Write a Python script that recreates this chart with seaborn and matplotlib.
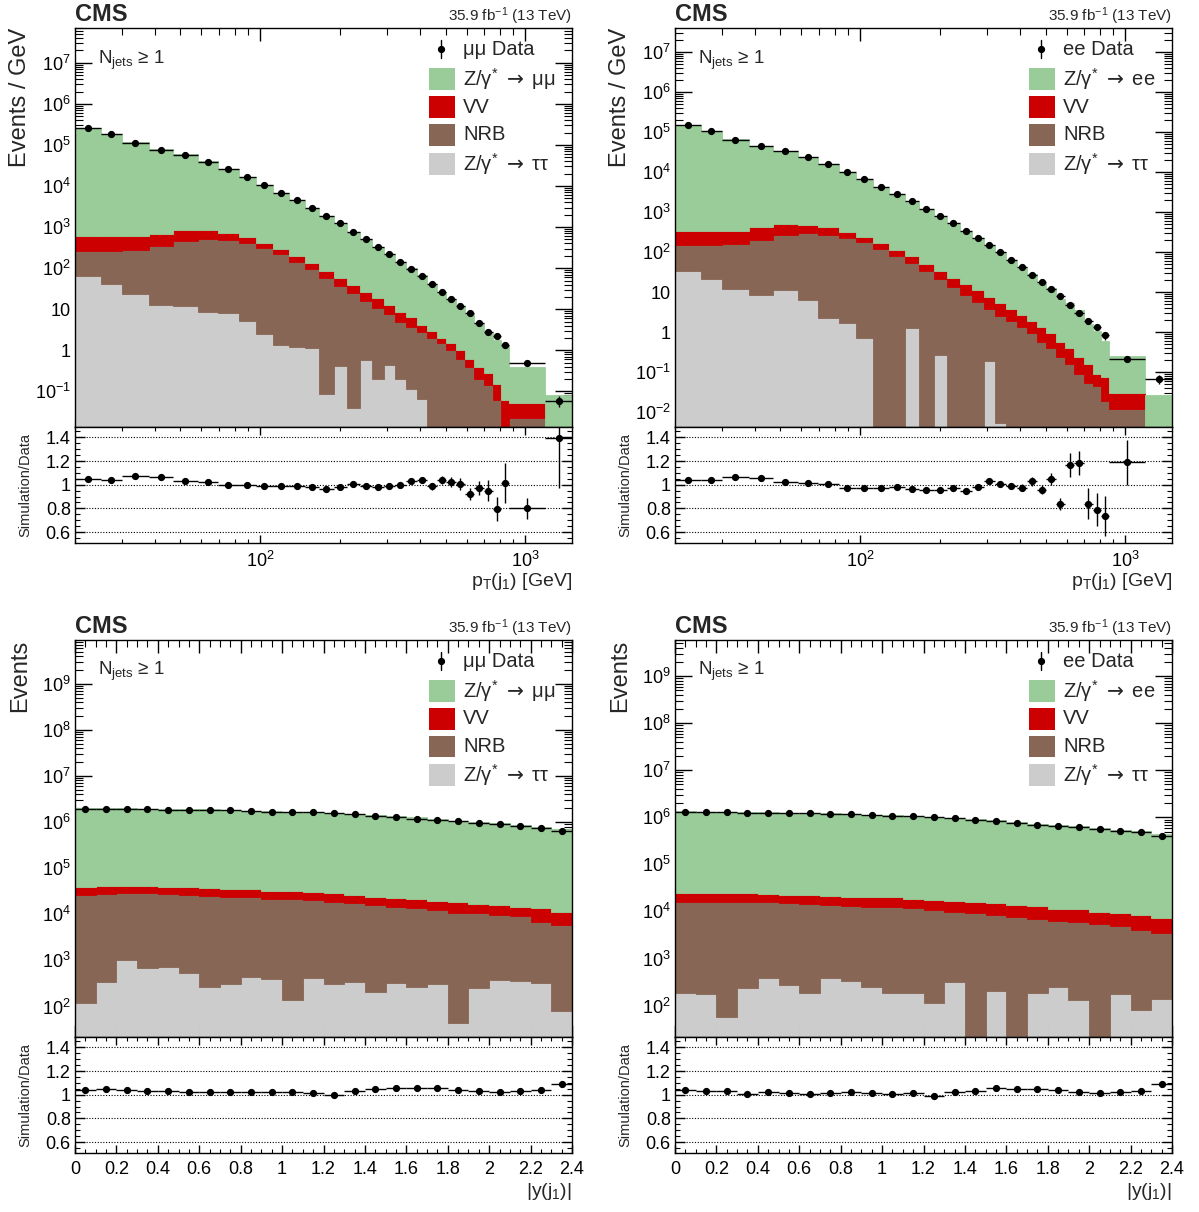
import numpy as np
import pandas as pd
import matplotlib
matplotlib.use("Agg")
import matplotlib.pyplot as plt
import seaborn as sns
from matplotlib.patches import Rectangle
from matplotlib.ticker import (FixedLocator, LogLocator, MultipleLocator,
                               FuncFormatter, NullFormatter)

# ----------------------------------------------------------------- data
pt_edges = [20, 25, 30, 38, 47, 58, 69, 83, 96, 112, 128, 148, 167, 189, 212,
            238, 263, 293, 322, 354, 390, 426, 464, 503, 546, 593, 643, 697,
            754, 810, 871, 1190, 1500]
y_edges = [0.0, 0.1, 0.2, 0.3, 0.4, 0.5, 0.6, 0.7, 0.8, 0.9, 1.0, 1.1, 1.2,
           1.3, 1.4, 1.5, 1.6, 1.7, 1.8, 1.9, 2.0, 2.1, 2.2, 2.3, 2.4]

# mu-mu, leading jet pT (events / GeV)
mm_pt_data = [2.54e5, 1.82e5, 1.09e5, 7.4e4, 5.7e4, 3.92e4, 2.6e4, 1.66e4, 1.08e4,
              6.9e3, 4.48e3, 2.92e3, 1.9e3, 1.23e3, 773, 513, 333, 221, 141, 95.5,
              64.6, 41, 25.8, 17.4, 12, 8.2, 4.7, 2.84, 2.27, 1.35, 0.5, 0.058]
mm_pt_dy = [2.65e5, 1.88e5, 1.16e5, 7.8e4, 5.8e4, 3.92e4, 2.53e4, 1.6e4, 1.02e4,
            6.54e3, 4.22e3, 2.73e3, 1.745e3, 1.144e3, 736, 481, 308, 206, 132, 91.6,
            63, 37.5, 24.9, 16.3, 11.1, 7.0, 4.18, 2.42, 1.66, 1.31, 0.347, 0.081]
mm_pt_vv = [340, 340, 319, 339, 391, 321, 233, 161, 95, 72, 54, 40, 26.4, 21.1, 14.5,
            10.6, 7.6, 5.0, 3.9, 3.0, 1.29, 0.92, 0.55, 0.46, 0.42, 0.2, 0.2, 0.13,
            0.086, 0.062, 0.031, 0]
mm_pt_nrb = [203, 226, 253, 340, 447, 504, 477, 398, 313, 220, 143, 93, 58.5, 37.1,
             24.4, 15.6, 10.7, 7.2, 4.6, 3.52, 2.78, 2.03, 1.48, 1.02, 0.6, 0.4, 0.196,
             0.143, 0.062, 0, 0.022, 0]
mm_pt_tt = [64, 41, 24, 13, 12, 8.6, 7.9, 5.2, 2.45, 1.35, 1.2, 1.12, 0.088, 0.415,
            0.04, 0.58, 0.2, 0.44, 0.2, 0.112, 0.064, 0, 0, 0, 0, 0, 0, 0, 0, 0, 0, 0]
mm_pt_ratio = [1.048, 1.039, 1.07, 1.062, 1.031, 1.02, 1.0, 1.0, 0.986, 0.99, 0.986,
               0.98, 0.963, 0.978, 1.003, 0.99, 0.98, 0.99, 0.997, 1.028, 1.039, 0.986,
               1.042, 1.022, 1.008, 0.924, 0.975, 0.95, 0.795, 1.014, 0.8, 1.393]
mm_pt_ratio_err = [0.004, 0.004, 0.004, 0.004, 0.004, 0.004, 0.005, 0.005, 0.006,
                   0.006, 0.007, 0.008, 0.009, 0.01, 0.011, 0.012, 0.014, 0.016, 0.018,
                   0.015, 0.025, 0.03, 0.035, 0.04, 0.05, 0.05, 0.06, 0.09, 0.1, 0.17,
                   0.09, 0.42]

# e-e, leading jet pT (events / GeV)
ee_pt_data = [1.47e5, 1.04e5, 6.3e4, 4.37e4, 3.34e4, 2.32e4, 1.55e4, 9.98e3, 6.54e3,
              4.21e3, 2.81e3, 1.84e3, 1.21e3, 778, 520, 341, 223, 147, 98, 61.8, 42.9,
              27.1, 18.1, 11.9, 8.09, 4.72, 2.98, 1.88, 1.36, 0.84, 0.215, 0.067]
ee_pt_dy = [1.52e5, 1.08e5, 6.7e4, 4.57e4, 3.37e4, 2.3e4, 1.51e4, 9.41e3, 6.12e3,
            3.94e3, 2.64e3, 1.70e3, 1.10e3, 711, 482, 308, 208, 143, 93.3, 57.4, 39.1,
            26, 16, 11.5, 6.2, 5.1, 3.28, 1.42, 0.98, 0.54, 0.224, 0.027]
ee_pt_vv = [189, 194, 183, 210, 229, 183, 142, 99, 59, 45, 33, 28, 18.2, 12.6, 9.4,
            7.5, 5.4, 3.95, 2.74, 1.91, 1.38, 0.98, 0.75, 0.54, 0.33, 0.24, 0.157,
            0.106, 0.045, 0.059, 0.019, 0]
ee_pt_nrb = [117, 126, 146, 194, 260, 292, 269, 221, 177, 123, 81, 51.7, 32.8, 21.2,
             13.8, 8.57, 5.83, 3.64, 2.55, 1.92, 1.33, 0.94, 0.58, 0.40, 0.246, 0.161,
             0.089, 0.055, 0.044, 0.019, 0.012, 0]
ee_pt_tt = [34.7, 21.1, 12.3, 8.57, 11.4, 6.42, 2.28, 1.68, 0.72, 0, 0, 1.28, 0, 0.27,
            0, 0, 0, 0.19, 0.0053, 0, 0, 0, 0, 0, 0, 0, 0, 0, 0, 0, 0, 0]
ee_pt_ratio = [1.037, 1.039, 1.065, 1.056, 1.025, 1.014, 1.003, 0.975, 0.972, 0.975,
               0.98, 0.966, 0.952, 0.958, 0.972, 0.949, 0.983, 1.028, 1.006, 0.99,
               0.975, 1.028, 0.958, 1.048, 0.84, 1.169, 1.183, 0.84, 0.79, 0.733,
               1.188, np.nan]
ee_pt_ratio_err = [0.005, 0.005, 0.005, 0.005, 0.005, 0.005, 0.006, 0.006, 0.007,
                   0.008, 0.009, 0.01, 0.011, 0.012, 0.014, 0.016, 0.018, 0.02, 0.022,
                   0.025, 0.03, 0.04, 0.04, 0.05, 0.05, 0.1, 0.1, 0.13, 0.14, 0.17,
                   0.19, 0]

# mu-mu, leading jet |y| (events)
mm_y_data = [1.96e6, 1.96e6, 1.93e6, 1.90e6, 1.87e6, 1.87e6, 1.84e6, 1.81e6, 1.72e6,
             1.69e6, 1.66e6, 1.64e6, 1.56e6, 1.48e6, 1.36e6, 1.30e6, 1.19e6, 1.10e6,
             1.03e6, 9.77e5, 9.15e5, 8.41e5, 7.62e5, 6.46e5]
mm_y_dy = [1.99e6, 2.01e6, 1.96e6, 1.91e6, 1.88e6, 1.87e6, 1.84e6, 1.815e6, 1.73e6,
           1.695e6, 1.66e6, 1.63e6, 1.53e6, 1.495e6, 1.40e6, 1.35e6, 1.24e6, 1.14e6,
           1.05e6, 9.93e5, 9.19e5, 8.55e5, 7.80e5, 6.91e5]
mm_y_vv = [1.34e4, 1.34e4, 1.25e4, 1.25e4, 1.13e4, 1.22e4, 1.24e4, 1.06e4, 1.14e4,
           1.06e4, 1.10e4, 9.9e3, 1.0e4, 8.8e3, 8.2e3, 7.9e3, 7.6e3, 7.3e3, 7.6e3,
           6.2e3, 6.3e3, 5.4e3, 7.0e3, 5.5e3]
mm_y_nrb = [2.60e4, 2.72e4, 2.74e4, 2.77e4, 2.63e4, 2.56e4, 2.50e4, 2.38e4, 2.29e4,
            2.14e4, 2.13e4, 2.0e4, 1.81e4, 1.70e4, 1.57e4, 1.43e4, 1.31e4, 1.21e4,
            1.05e4, 1.02e4, 9.26e3, 8.81e3, 6.58e3, 5.78e3]
mm_y_tt = [118, 348, 1023, 676, 735, 545, 271, 310, 446, 391, 139, 417, 310, 348,
           211, 331, 271, 310, 43.5, 258, 377, 359, 331, 80.6]
mm_y_ratio = [1.036, 1.045, 1.036, 1.028, 1.028, 1.02, 1.022, 1.022, 1.025, 1.022,
              1.022, 1.014, 1.0, 1.028, 1.048, 1.053, 1.059, 1.053, 1.039, 1.034,
              1.022, 1.034, 1.042, 1.087]
mm_y_ratio_err = [0.003] * 24

# e-e, leading jet |y| (events)
ee_y_data = [1.285e6, 1.285e6, 1.285e6, 1.265e6, 1.245e6, 1.245e6, 1.245e6, 1.205e6,
             1.166e6, 1.128e6, 1.092e6, 1.057e6, 1.023e6, 9.59e5, 8.98e5, 8.41e5,
             7.76e5, 7.04e5, 6.59e5, 6.28e5, 5.78e5, 5.25e5, 4.92e5, 4.05e5]
ee_y_dy = [1.31e6, 1.30e6, 1.30e6, 1.25e6, 1.25e6, 1.24e6, 1.23e6, 1.20e6, 1.17e6,
           1.12e6, 1.08e6, 1.05e6, 9.91e5, 9.62e5, 9.10e5, 8.73e5, 8.0e5, 7.25e5,
           6.71e5, 6.31e5, 5.78e5, 5.28e5, 5.0e5, 4.33e5]
ee_y_vv = [8.1e3, 8.1e3, 8.6e3, 8.6e3, 7.4e3, 7.5e3, 7.9e3, 7.9e3, 7.4e3, 7.3e3,
           7.7e3, 7.0e3, 6.8e3, 6.7e3, 6.7e3, 6.4e3, 6.2e3, 6.1e3, 5.1e3, 5.2e3,
           4.3e3, 4.2e3, 4.4e3, 3.7e3]
ee_y_nrb = [1.59e4, 1.59e4, 1.55e4, 1.54e4, 1.52e4, 1.45e4, 1.42e4, 1.33e4, 1.29e4,
            1.24e4, 1.20e4, 1.14e4, 1.06e4, 9.56e3, 9.1e3, 8.2e3, 7.46e3, 6.72e3,
            6.0e3, 5.73e3, 5.4e3, 4.72e3, 3.95e3, 3.29e3]
ee_y_tt = [183, 177, 56.5, 230, 380, 274, 183, 393, 333, 245, 183, 189, 112, 313, 0,
           205, 23, 183, 245, 132, 0, 177, 81, 138]
ee_y_ratio = [1.036, 1.031, 1.028, 1.008, 1.025, 1.014, 1.006, 1.014, 1.022, 1.011,
              1.006, 1.011, 0.986, 1.02, 1.031, 1.056, 1.048, 1.048, 1.036, 1.022,
              1.017, 1.022, 1.034, 1.087]
ee_y_ratio_err = [0.003] * 24

# ----------------------------------------------------------------- style
GREEN, RED, BROWN, GRAY = "#99cc99", "#cc0000", "#886655", "#cccccc"

sns.set_theme(style="ticks")
plt.rcParams["font.family"] = ["Liberation Sans", "DejaVu Sans"]
plt.rcParams["mathtext.fontset"] = "custom"
plt.rcParams["mathtext.rm"] = "Liberation Sans"
plt.rcParams["mathtext.it"] = "Liberation Sans:italic"
plt.rcParams["mathtext.bf"] = "Liberation Sans:bold"
plt.rcParams["mathtext.sf"] = "DejaVu Sans"
plt.rcParams["axes.linewidth"] = 1.0

W, H = 1199, 1212
fig = plt.figure(figsize=(W / 100, H / 100), dpi=100)
fig.patch.set_facecolor("white")

ARROW = r"$\mathsf{\rightarrow}$"


def log_label(v, pos):
    if v <= 0:
        return ""
    e = int(np.round(np.log10(v)))
    if abs(v - 10.0 ** e) > 1e-6 * 10.0 ** e:
        return ""
    if e == 0:
        return "1"
    if e == 1:
        return "10"
    return r"$10^{%d}$" % e


def draw_panel(p):
    L, R, T, M, B = p["box"]
    ax = fig.add_axes([L / W, 1 - M / H, (R - L) / W, (M - T) / H])
    rax = fig.add_axes([L / W, 1 - B / H, (R - L) / W, (B - M) / H])
    edges = np.asarray(p["edges"], float)
    logx = p["logx"]
    centers = np.sqrt(edges[:-1] * edges[1:]) if logx else 0.5 * (edges[:-1] + edges[1:])

    names = ["dy", "vv", "nrb", "tt"]
    vals = [p["dy"], p["vv"], p["nrb"], p["tt"]]
    df = pd.concat([pd.DataFrame({"x": centers, "w": np.asarray(v, float), "proc": n})
                    for n, v in zip(names, vals)], ignore_index=True)
    bins = [float(b) for b in (np.log10(edges) if logx else edges)]
    sns.histplot(data=df, x="x", weights="w", hue="proc", hue_order=names,
                 palette=dict(zip(names, [GREEN, RED, BROWN, GRAY])),
                 bins=bins, multiple="stack", element="bars", fill=True,
                 alpha=1.0, linewidth=0, legend=False, ax=ax,
                 log_scale=(logx, True))
    # bars that start at zero cannot be shown on a log axis: start them just above it
    for patch in list(ax.patches):
        y0, h = patch.get_y(), patch.get_height()
        if y0 <= 0 and h > 0:
            patch.set_y(1e-9)
            patch.set_height(h)
        patch.set_edgecolor(patch.get_facecolor())
        patch.set_linewidth(0.6)
    ax.set_xlabel("")
    ax.set_ylabel("")

    data = np.asarray(p["data"], float)
    ratio = np.asarray(p["ratio"], float)
    rerr = np.asarray(p["ratio_err"], float)
    xlo = centers - edges[:-1]
    xhi = edges[1:] - centers
    rel = np.where(np.isfinite(ratio), rerr / np.where(np.isfinite(ratio), ratio, 1), 0.25)
    ax.errorbar(centers, data, xerr=[xlo, xhi], yerr=data * rel, fmt="o",
                color="black", ms=4.2, elinewidth=1.0, capsize=0, zorder=5)
    ax.set_xlim(edges[0], edges[-1])
    lo, hi = p["ylim"]
    ax.set_ylim(lo, hi)

    for g in [0.6, 0.8, 1.0, 1.2, 1.4]:
        rax.axhline(g, color="black", lw=0.8, ls=(0, (1, 1.5)), zorder=1)
    ok = np.isfinite(ratio)
    rax.errorbar(centers[ok], ratio[ok], xerr=[xlo[ok], xhi[ok]], yerr=rerr[ok],
                 fmt="o", color="black", ms=4.2, elinewidth=1.0, capsize=0, zorder=5)
    if logx:
        rax.set_xscale("log")
    rax.set_xlim(edges[0], edges[-1])
    rax.set_ylim(0.508, 1.487)

    for a in (ax, rax):
        a.tick_params(which="both", direction="in", top=True, right=True,
                      bottom=True, left=True, colors="black", labelsize=13)
        for s in a.spines.values():
            s.set_color("black")
            s.set_linewidth(1.0)
        if logx:
            a.xaxis.set_major_locator(FixedLocator([100, 1000]))
            a.xaxis.set_minor_locator(LogLocator(base=10, subs=np.arange(2, 10), numticks=50))
            a.xaxis.set_minor_formatter(NullFormatter())
        else:
            a.xaxis.set_major_locator(MultipleLocator(0.2))
            a.xaxis.set_minor_locator(MultipleLocator(0.05))
    if logx:
        rax.xaxis.set_major_formatter(FuncFormatter(log_label))
    else:
        rax.xaxis.set_major_formatter(FuncFormatter(lambda v, pos: f"{v:g}"))
    ax.tick_params(labelbottom=False)
    ax.tick_params(axis="y", which="major", length=12, width=1.0, pad=3)
    ax.tick_params(axis="y", which="minor", length=6, width=0.8)
    ax.tick_params(axis="x", which="major", length=9, width=1.0)
    ax.tick_params(axis="x", which="minor", length=5, width=0.8)
    rax.tick_params(axis="y", which="major", length=7, width=1.0, pad=3)
    rax.tick_params(axis="y", which="minor", length=3.5, width=0.8)
    rax.tick_params(axis="x", which="major", length=6, width=1.0, pad=6)
    rax.tick_params(axis="x", which="minor", length=3, width=0.8)

    decades = 10.0 ** np.arange(np.ceil(np.log10(lo)), np.floor(np.log10(hi)) + 1)
    ax.yaxis.set_major_locator(FixedLocator(decades))
    ax.yaxis.set_minor_locator(LogLocator(base=10, subs=np.arange(2, 10), numticks=300))
    ax.yaxis.set_major_formatter(FuncFormatter(log_label))
    ax.yaxis.set_minor_formatter(NullFormatter())
    rax.yaxis.set_major_locator(FixedLocator([0.6, 0.8, 1.0, 1.2, 1.4]))
    rax.yaxis.set_minor_locator(MultipleLocator(0.05))
    rax.yaxis.set_major_formatter(FuncFormatter(lambda v, pos: f"{v:g}"))

    # legend (ROOT style)
    rows = [0.947, 0.872, 0.802, 0.732, 0.659]
    tx = 0.781
    ax.plot([0.737], [rows[0]], "o", color="black", ms=4.2, transform=ax.transAxes, zorder=7)
    ax.plot([0.737, 0.737], [rows[0] - 0.022, rows[0] + 0.022], color="black", lw=1.0,
            transform=ax.transAxes, zorder=7)
    ax.text(tx, rows[0], p["data_label"], transform=ax.transAxes, va="center",
            ha="left", fontsize=14.5, zorder=7)
    entries = [(p["dy_label"], GREEN), ("VV", RED), ("NRB", BROWN),
               ("Z/γ$^{*}$ " + ARROW + " ττ", GRAY)]
    for (lab, col), yy in zip(entries, rows[1:]):
        ax.add_patch(Rectangle((0.712, yy - 0.0276), 0.053, 0.055, transform=ax.transAxes,
                               facecolor=col, edgecolor="none", zorder=7))
        ax.text(tx, yy, lab, transform=ax.transAxes, va="center", ha="left",
                fontsize=14.5, zorder=7)
    ax.text(0.046, 0.92, r"N$_{\mathrm{jets}}$ ≥ 1", transform=ax.transAxes,
            va="center", ha="left", fontsize=13.5)

    # header and axis titles
    fig.text(L / W, 1 - (T - 7) / H, "CMS", fontsize=17, fontweight="bold",
             ha="left", va="baseline")
    fig.text(R / W, 1 - (T - 7) / H, r"35.9 fb$^{-1}$ (13 TeV)", fontsize=11,
             ha="right", va="baseline")
    fig.text((L - 55) / W, 1 - T / H, p["ylabel"], rotation=90, fontsize=17,
             ha="center", va="top")
    fig.text((L - 50) / W, 1 - ((M + B) / 2) / H, "Simulation/Data", rotation=90,
             fontsize=10.5, ha="center", va="center")
    fig.text(R / W, 1 - (B + 39) / H, p["xlabel"], fontsize=14, ha="right", va="center")


panels = [
    dict(box=(75, 572, 28, 427, 543), edges=pt_edges, logx=True,
         data=mm_pt_data, dy=mm_pt_dy, vv=mm_pt_vv, nrb=mm_pt_nrb, tt=mm_pt_tt,
         ratio=mm_pt_ratio, ratio_err=mm_pt_ratio_err, ylim=(0.01356, 7.05e7),
         data_label="μμ Data", dy_label="Z/γ$^{*}$ " + ARROW + " μμ",
         ylabel="Events / GeV", xlabel=r"p$_{\mathrm{T}}$(j$_{1}$) [GeV]"),
    dict(box=(675, 1172, 28, 427, 543), edges=pt_edges, logx=True,
         data=ee_pt_data, dy=ee_pt_dy, vv=ee_pt_vv, nrb=ee_pt_nrb, tt=ee_pt_tt,
         ratio=ee_pt_ratio, ratio_err=ee_pt_ratio_err, ylim=(0.00427, 3.98e7),
         data_label="ee Data", dy_label="Z/γ$^{*}$ " + ARROW + " ee",
         ylabel="Events / GeV", xlabel=r"p$_{\mathrm{T}}$(j$_{1}$) [GeV]"),
    dict(box=(75, 572, 640, 1037, 1153), edges=y_edges, logx=False,
         data=mm_y_data, dy=mm_y_dy, vv=mm_y_vv, nrb=mm_y_nrb, tt=mm_y_tt,
         ratio=mm_y_ratio, ratio_err=mm_y_ratio_err, ylim=(21.8, 8.9e9),
         data_label="μμ Data", dy_label="Z/γ$^{*}$ " + ARROW + " μμ",
         ylabel="Events", xlabel=r"|y(j$_{1}$)|"),
    dict(box=(675, 1172, 640, 1037, 1153), edges=y_edges, logx=False,
         data=ee_y_data, dy=ee_y_dy, vv=ee_y_vv, nrb=ee_y_nrb, tt=ee_y_tt,
         ratio=ee_y_ratio, ratio_err=ee_y_ratio_err, ylim=(21.4, 5.9e9),
         data_label="ee Data", dy_label="Z/γ$^{*}$ " + ARROW + " ee",
         ylabel="Events", xlabel=r"|y(j$_{1}$)|"),
]

for p in panels:
    draw_panel(p)

fig.savefig("out.png", dpi=100, facecolor="white")
